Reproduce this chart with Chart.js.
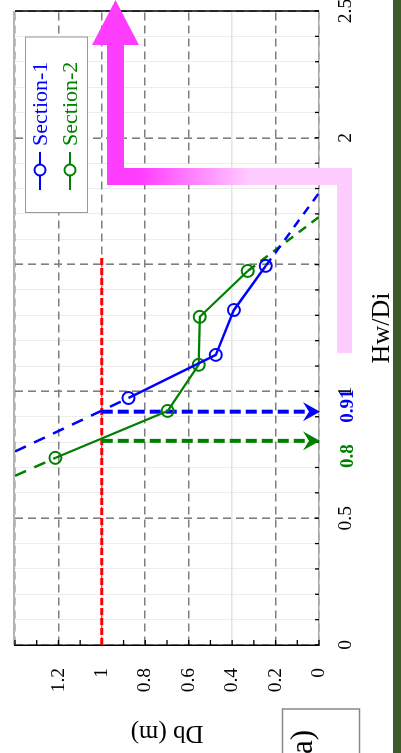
<!DOCTYPE html>
<html><head><meta charset="utf-8">
<script src="https://cdn.jsdelivr.net/npm/chart.js@4"></script>
<style>
html,body{margin:0;padding:0;background:#fff;overflow:hidden;width:401px;height:753px;}
#wrap{position:absolute;left:0;top:0;width:753px;height:401px;transform-origin:0 0;transform:translateY(753px) rotate(-90deg);background:#fff;}
canvas{display:block;}
</style></head><body>
<div id="wrap"><canvas id="c" width="753" height="401"></canvas></div>
<script>
// ---- data ----
const seriesNames = ['Section-1', 'Section-2'];
const sec1Hw = [0.974, 1.144, 1.321, 1.495];
const sec1Db = [0.877, 0.475, 0.392, 0.245];
const sec2Hw = [0.738, 0.923, 1.105, 1.294, 1.475];
const sec2Db = [1.214, 0.697, 0.554, 0.549, 0.328];
const sec1ExtLowHw = [0.763, 0.974];  const sec1ExtLowDb = [1.40, 0.877];
const sec1ExtHighHw = [1.495, 1.783]; const sec1ExtHighDb = [0.245, 0.0];
const sec2ExtLowHw = [0.667, 0.738];  const sec2ExtLowDb = [1.40, 1.214];
const sec2ExtHighHw = [1.475, 1.688]; const sec2ExtHighDb = [0.328, 0.0];
const refLineHw = [0, 1.53];  const refLineDb = [1, 1];
const arrowHw = [0.92, 0.805];
const arrowDbFrom = 1.0;
const arrowLabels = ['0.91', '0.8'];
const xTickLabels = ['0', '0.5', '1', '1.5', '2', '2.5'];
const yTickLabels = ['0', '0.2', '0.4', '0.6', '0.8', '1', '1.2'];
const panelLabel = '(a)';

const BLUE = '#0000ff', GREEN = '#008000', RED = '#ff0000';
const SERIF = '"Liberation Serif", "Times New Roman", serif';
const pts = (xs, ys) => xs.map((x, i) => ({x, y: ys[i]}));
const near = (a, b) => Math.abs(a - b) < 1e-6;
const isMult = (v, s) => near(v / s, Math.round(v / s));

function lineDs(xs, ys, color, width, dash, extra) {
  return Object.assign({
    data: pts(xs, ys), showLine: true, borderColor: color, borderWidth: width,
    borderDash: dash, pointRadius: 0, fill: false, tension: 0
  }, extra || {});
}

const datasets = [
  lineDs(sec1Hw, sec1Db, BLUE, 2.5, [], {pointRadius: 6, pointBorderWidth: 2, pointBorderColor: BLUE, pointBackgroundColor: 'rgba(0,0,0,0)'}),
  lineDs(sec2Hw, sec2Db, GREEN, 2.2, [], {pointRadius: 6, pointBorderWidth: 2, pointBorderColor: GREEN, pointBackgroundColor: 'rgba(0,0,0,0)'}),
  lineDs(sec1ExtLowHw, sec1ExtLowDb, BLUE, 2.5, [12, 9]),
  lineDs(sec1ExtHighHw, sec1ExtHighDb, BLUE, 2.5, [9, 7]),
  lineDs(sec2ExtLowHw, sec2ExtLowDb, GREEN, 2.5, [12, 9]),
  lineDs(sec2ExtHighHw, sec2ExtHighDb, GREEN, 2.5, [9, 7]),
  lineDs([arrowHw[0], arrowHw[0]], [arrowDbFrom, 0.05], BLUE, 4, [11, 5]),
  lineDs([arrowHw[1], arrowHw[1]], [arrowDbFrom, 0.05], GREEN, 4, [11, 5]),
  lineDs(refLineHw, refLineDb, RED, 3, [7, 3])
];

const zeroPad = s => { s.paddingLeft = 0; s.paddingRight = 0; s.paddingTop = 0; s.paddingBottom = 0; };

const decorPlugin = {
  id: 'decor',
  beforeDraw(chart) {
    const ctx = chart.ctx, xs = chart.scales.x;
    ctx.save();
    ctx.font = 'bold 19px ' + SERIF;
    ctx.textBaseline = 'alphabetic';
    ctx.textAlign = 'left';
    ctx.fillStyle = BLUE;
    ctx.fillText(arrowLabels[0], xs.getPixelForValue(0.876), 353);
    ctx.fillStyle = GREEN;
    ctx.fillText(arrowLabels[1], xs.getPixelForValue(0.698), 353);
    ctx.restore();
  },
  beforeDatasetsDraw(chart) {
    const ctx = chart.ctx, a = chart.chartArea, xs = chart.scales.x, ys = chart.scales.y;
    ctx.save();
    ctx.strokeStyle = '#b4b4b4'; ctx.lineWidth = 2;
    ctx.beginPath(); ctx.moveTo(a.left, a.top - 1); ctx.lineTo(a.right, a.top - 1); ctx.stroke();
    ctx.strokeStyle = '#000'; ctx.lineWidth = 1.5;
    ctx.beginPath(); ctx.moveTo(a.right, a.top); ctx.lineTo(a.right, a.bottom); ctx.stroke();
    ctx.lineWidth = 1.3;
    xs.ticks.forEach(t => {
      const p = xs.getPixelForValue(t.value);
      ctx.beginPath(); ctx.moveTo(p, a.bottom); ctx.lineTo(p, a.bottom - 4); ctx.stroke();
    });
    ys.ticks.forEach(t => {
      const p = ys.getPixelForValue(t.value);
      ctx.beginPath(); ctx.moveTo(a.left, p); ctx.lineTo(a.left + 5, p); ctx.stroke();
    });
    ctx.restore();
  },
  afterDatasetsDraw(chart) {
    const ctx = chart.ctx, xs = chart.scales.x, ys = chart.scales.y;
    const tipY = ys.getPixelForValue(0) + 1;
    [[arrowHw[0], BLUE], [arrowHw[1], GREEN]].forEach(([v, col]) => {
      const x = xs.getPixelForValue(v);
      ctx.save();
      ctx.fillStyle = col;
      ctx.beginPath();
      ctx.moveTo(x, tipY);
      ctx.lineTo(x - 9.5, tipY - 17);
      ctx.lineTo(x, tipY - 11);
      ctx.lineTo(x + 9.5, tipY - 17);
      ctx.closePath(); ctx.fill();
      ctx.restore();
    });
  },
  afterDraw(chart) {
    const ctx = chart.ctx;
    ctx.save();
    const light = '#ffccff', mag = '#ff3dff';
    ctx.fillStyle = light;
    ctx.fillRect(400, 337, 185, 15);
    const g = ctx.createLinearGradient(0, 250, 0, 140);
    g.addColorStop(0, light); g.addColorStop(1, mag);
    ctx.fillStyle = g;
    ctx.fillRect(568, 107, 17, 245);
    ctx.fillStyle = mag;
    ctx.fillRect(568, 107, 140, 17);
    ctx.beginPath();
    ctx.moveTo(753, 115.5); ctx.lineTo(708, 92); ctx.lineTo(708, 139); ctx.closePath(); ctx.fill();

    ctx.fillStyle = '#fff';
    ctx.fillRect(540, 25.5, 176, 62);
    ctx.strokeStyle = '#999'; ctx.lineWidth = 1;
    ctx.strokeRect(540.5, 25.5, 175.5, 62);
    [[BLUE, 40], [GREEN, 70]].forEach(([col, y], i) => {
      ctx.strokeStyle = col; ctx.lineWidth = 2;
      ctx.beginPath(); ctx.moveTo(563, y); ctx.lineTo(601, y); ctx.stroke();
      ctx.fillStyle = '#fff';
      ctx.beginPath(); ctx.arc(583, y, 5.5, 0, Math.PI * 2); ctx.fill(); ctx.stroke();
      ctx.fillStyle = col;
      ctx.font = '22px ' + SERIF; ctx.textAlign = 'left'; ctx.textBaseline = 'middle';
      ctx.fillText(seriesNames[i], 607, y + 1);
    });

    ctx.fillStyle = '#fff';
    ctx.fillRect(-2, 282, 46, 77);
    ctx.strokeStyle = '#888'; ctx.lineWidth = 1.5;
    ctx.strokeRect(-2, 282.5, 46, 77);
    ctx.fillStyle = '#000';
    ctx.font = '31px ' + SERIF; ctx.textAlign = 'right'; ctx.textBaseline = 'middle';
    ctx.fillText(panelLabel, 23, 304);

    ctx.fillStyle = '#3d5a2a';
    ctx.fillRect(0, 393, 753, 8);
    ctx.restore();
  }
};

new Chart(document.getElementById('c'), {
  type: 'scatter',
  data: {datasets},
  options: {
    responsive: false, animation: false, devicePixelRatio: 1,
    layout: {padding: {top: 15, right: 11, left: 0, bottom: 0}},
    plugins: {legend: {display: false}, tooltip: {enabled: false}},
    scales: {
      x: {
        type: 'linear', position: 'bottom', min: 0, max: 2.5,
        afterFit: s => { s.height = 82; zeroPad(s); },
        ticks: {
          stepSize: 0.1, autoSkip: false, maxRotation: 0, minRotation: 0, padding: 15,
          color: '#000', font: {family: SERIF, size: 19.5},
          callback: v => { const s = xTickLabels.find(t => near(Number(t), v)); return s === undefined ? '' : s; }
        },
        grid: {
          drawTicks: false,
          color: c => (c.tick && isMult(c.tick.value, 0.5)) ? '#7f7f7f' : '#ececec',
          lineWidth: c => (c.tick && isMult(c.tick.value, 0.5)) ? 1.6 : 1
        },
        border: {display: true, color: '#a8a8a8', width: 1.5,
          dash: c => (c.tick && isMult(c.tick.value, 0.5)) ? [8, 5] : []},
        title: {display: true, text: 'Hw/Di', color: '#000', font: {family: SERIF, size: 26}, padding: {top: 0, bottom: 3}}
      },
      y: {
        type: 'linear', position: 'left', min: 0, max: 1.4,
        afterFit: s => { s.width = 108; zeroPad(s); },
        ticks: {
          stepSize: 0.1, autoSkip: false, padding: 23,
          color: '#000', font: {family: SERIF, size: 19.5},
          callback: v => { const s = yTickLabels.find(t => near(Number(t), v)); return s === undefined ? '' : s; }
        },
        grid: {
          drawTicks: false,
          color: c => {
            if (!c.tick) return 'rgba(0,0,0,0)';
            const v = c.tick.value;
            if (near(v, 0.4)) return '#e4e4e4';
            return isMult(v, 0.2) ? '#7f7f7f' : 'rgba(0,0,0,0)';
          },
          lineWidth: 1.6
        },
        border: {display: true, color: '#000', width: 1.5,
          dash: c => (c.tick && isMult(c.tick.value, 0.2) && !near(c.tick.value, 0.4)) ? [8, 5] : []},
        title: {display: true, text: 'Db (m)', color: '#000', font: {family: SERIF, size: 25}, padding: {top: 5, bottom: 0}}
      }
    }
  },
  plugins: [decorPlugin]
});
</script>
</body></html>
